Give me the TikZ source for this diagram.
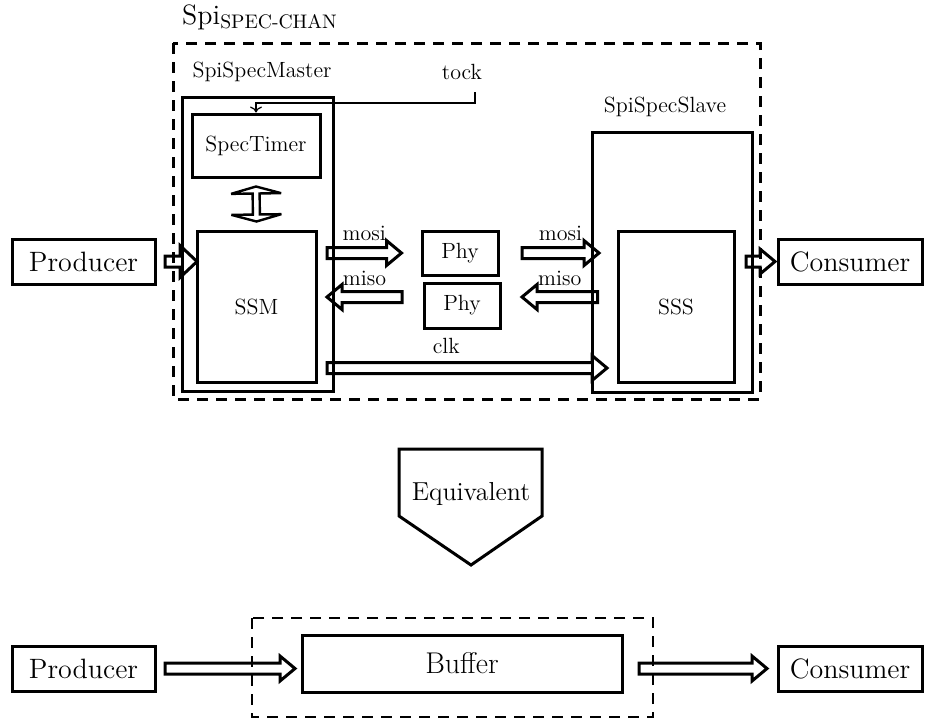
\documentclass[tikz,border=0pt]{standalone}
\usepackage{fontspec}
\usetikzlibrary{arrows.meta,calc}

\tikzset{
  box/.style={draw, line width=1.5pt, rectangle, inner sep=0pt, align=center},
  bigtxt/.style={font=\fontsize{14}{16}\selectfont},
  midtxt/.style={font=\fontsize{11}{13}\selectfont},
  lbl/.style={font=\fontsize{11}{13}\selectfont, inner sep=0pt},
  boundary/.style={line width=1.5pt, dash pattern=on 5.5pt off 4pt},
  signal/.style={line width=0.6pt, -{To[length=3pt,width=6pt]}},
  % outlined block arrows: shaft half width, head half width, head length
  ba h/.store in=\bah, ba H/.store in=\baH, ba L/.store in=\baL,
  ba h=2.75pt, ba H=6.25pt, ba L=7.5pt,
  blockarrow/.style={line width=1.5pt, line join=miter, to path={
    let \p1=(\tikztostart), \p2=(\tikztotarget),
        \n1={atan2(\y2-\y1,\x2-\x1)} in
    ([shift={(\n1+90:\bah)}]\x1,\y1)
    -- ([shift={(\n1+180:\baL)},shift={(\n1+90:\bah)}]\x2,\y2)
    -- ([shift={(\n1+180:\baL)},shift={(\n1+90:\baH)}]\x2,\y2)
    -- (\x2,\y2)
    -- ([shift={(\n1+180:\baL)},shift={(\n1-90:\baH)}]\x2,\y2)
    -- ([shift={(\n1+180:\baL)},shift={(\n1-90:\bah)}]\x2,\y2)
    -- ([shift={(\n1-90:\bah)}]\x1,\y1) -- cycle}},
  dblockarrow/.style={line width=1.2pt, line join=miter, miter limit=3,
    ba h=1.75pt, ba H=12.5pt, ba L=3.5pt, to path={
    let \p1=(\tikztostart), \p2=(\tikztotarget),
        \n1={atan2(\y2-\y1,\x2-\x1)} in
    (\x1,\y1)
    -- ([shift={(\n1:\baL)},shift={(\n1+90:\baH)}]\x1,\y1)
    -- ([shift={(\n1:\baL)},shift={(\n1+90:\bah)}]\x1,\y1)
    -- ([shift={(\n1+180:\baL)},shift={(\n1+90:\bah)}]\x2,\y2)
    -- ([shift={(\n1+180:\baL)},shift={(\n1+90:\baH)}]\x2,\y2)
    -- (\x2,\y2)
    -- ([shift={(\n1+180:\baL)},shift={(\n1-90:\baH)}]\x2,\y2)
    -- ([shift={(\n1+180:\baL)},shift={(\n1-90:\bah)}]\x2,\y2)
    -- ([shift={(\n1:\baL)},shift={(\n1-90:\bah)}]\x1,\y1)
    -- ([shift={(\n1:\baL)},shift={(\n1-90:\baH)}]\x1,\y1)
    -- cycle}},
}

\begin{document}
\begin{tikzpicture}[x=0.5pt, y=-0.5pt]
\useasboundingbox (0,0) rectangle (925,725);

% ---------- SPI channel ----------
\node[bigtxt] (title) at (260,17) {Spi\textsubscript{SPEC-CHAN}};
\draw[boundary] (173,43) rectangle (760,399);

% master side
\node[midtxt] (mlabel) at (262,72) {SpiSpecMaster};
\node[midtxt] (tock) at (462,72) {tock};
\node[box, minimum width=75.5pt, minimum height=147pt] (master) at (257.5,244) {};
\node[box, midtxt, minimum width=64pt, minimum height=31.5pt] (timer) at (256,145.5) {SpecTimer};
\node[box, midtxt, minimum width=59.5pt, minimum height=75.5pt] (ssm) at (256.5,306.5) {SSM};

% physical layer
\node[box, midtxt, minimum width=38pt, minimum height=22pt] (phy1) at (460,253) {Phy};
\node[box, midtxt, minimum width=38pt, minimum height=22.5pt] (phy2) at (462,305.5) {Phy};

% slave side
\node[midtxt] (slabel) at (665,107) {SpiSpecSlave};
\node[box, minimum width=80pt, minimum height=130pt] (slave) at (672,262) {};
\node[box, midtxt, minimum width=58pt, minimum height=75.5pt] (sss) at (676,306.5) {SSS};

% environment
\node[box, bigtxt, minimum width=71.5pt, minimum height=22.5pt] (prod) at (83.5,261.5) {Producer};
\node[box, bigtxt, minimum width=72pt, minimum height=22.5pt] (cons) at (850,261.5) {Consumer};

% tock signal into the timer
\coordinate (tockend) at (475,92);
\draw[signal] (tockend) -- (tockend |- 0,103) -| (timer.north);

% timer <-> state machine
\draw[dblockarrow] ([yshift=-4pt]timer.south) to ([yshift=4pt]ssm.north);

% data paths
\coordinate (mosiLa) at ([xshift=4.75pt]ssm.east |- phy1.west);
\coordinate (mosiLb) at ([xshift=-9.5pt]phy1.west);
\coordinate (misoLa) at ([xshift=-10.25pt]phy2.west |- 0,297);
\coordinate (misoLb) at ([xshift=4.75pt]ssm.east |- 0,297);
\coordinate (mosiRa) at ([xshift=11.25pt]phy1.east);
\coordinate (mosiRb) at ([xshift=-8.75pt]sss.west |- phy1.east);
\coordinate (misoRa) at ([xshift=-9.5pt]sss.west |- 0,297);
\coordinate (misoRb) at ([xshift=10.25pt]phy2.east |- 0,297);
\coordinate (clka) at ([xshift=4.75pt]ssm.east |- 0,368);
\coordinate (clkb) at ([xshift=-4.75pt]sss.west |- 0,368);

\draw[blockarrow, ba H=8pt, ba L=8.5pt] ([xshift=4.25pt]prod.east) to ([xshift=0.75pt]ssm.west |- prod.east);
\draw[blockarrow] (mosiLa) to (mosiLb);
\draw[blockarrow] (misoLa) to (misoLb);
\draw[blockarrow] (mosiRa) to (mosiRb);
\draw[blockarrow] (misoRa) to (misoRb);
\draw[blockarrow] (clka) to (clkb);
\draw[blockarrow] ([xshift=5.25pt]sss.east |- cons.west) to ([xshift=-0.75pt]cons.west);

\path (mosiLa) -- node[lbl, yshift=10pt] {mosi} (mosiLb);
\path (misoLb) -- node[lbl, yshift=9.5pt] {miso} (misoLa);
\path (mosiRa) -- node[lbl, yshift=10pt] {mosi} (mosiRb);
\path (misoRb) -- node[lbl, yshift=9.5pt] {miso} (misoRa);
\path (clka) -- node[lbl, pos=0.426, yshift=11pt] {clk} (clkb);

% ---------- equivalence ----------
\draw[line width=1.5pt, line join=miter] (399,449) -- (542,449) -- (542,516) -- (471,565) -- (399,516) -- cycle;
\node[font=\fontsize{13}{15}\selectfont] (equiv) at (471,494) {Equivalent};

% ---------- abstract buffer ----------
\draw[boundary, line width=1.3pt] (252,618) rectangle (653,717);
\node[box, bigtxt, minimum width=71.5pt, minimum height=22.5pt] (prodb) at (83.5,668.5) {Producer};
\node[box, font=\fontsize{15}{17}\selectfont, minimum width=160pt, minimum height=28.5pt] (buf) at (462,663.5) {Buffer};
\node[box, bigtxt, minimum width=72pt, minimum height=22.5pt] (consb) at (850,668.5) {Consumer};
\draw[blockarrow] ([xshift=4.25pt]prodb.east) to ([xshift=-2.75pt]buf.west |- prodb.east);
\draw[blockarrow] ([xshift=7.75pt]buf.east |- consb.west) to ([xshift=-4.75pt]consb.west);

\end{tikzpicture}
\end{document}
